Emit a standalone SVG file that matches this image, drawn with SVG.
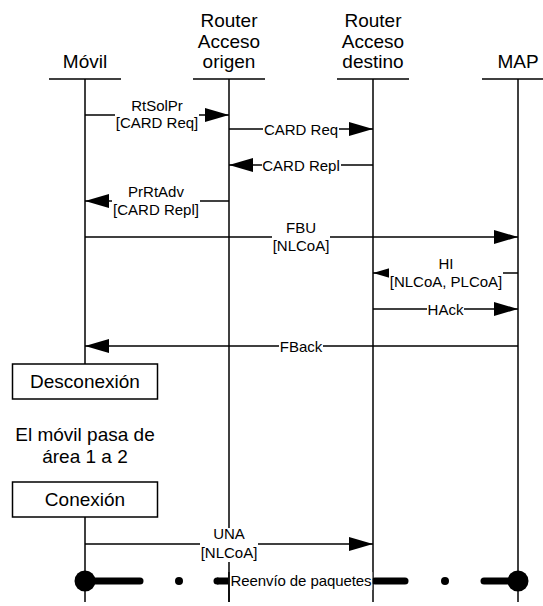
<svg xmlns="http://www.w3.org/2000/svg" width="543" height="606" viewBox="0 0 543 606">
<style>
.hdr{font-family:"Liberation Sans",Arial,sans-serif;font-size:19px;fill:#000;text-anchor:middle}
.lbl{font-family:"Liberation Sans",Arial,sans-serif;font-size:15px;fill:#000;text-anchor:middle}
.ln{stroke:#000;stroke-width:1.5;fill:none}
.msg{stroke:#000;stroke-width:1.5;fill:none;marker-end:url(#ah)}
.bg{fill:#fff;stroke:none}
.box{fill:#fff;stroke:#000;stroke-width:1.5}
.thick{stroke:#000;stroke-width:7;stroke-linecap:round;fill:none}
</style>
<defs>
<marker id="ah" markerUnits="userSpaceOnUse" markerWidth="24" markerHeight="14" refX="24" refY="7" orient="auto" viewBox="0 0 24 14">
<path d="M0,0 L24,7 L0,14 z" fill="#000"/>
</marker>
</defs>
<rect width="543" height="606" fill="#fff"/>
<g id="movil">
<text class="hdr" x="85" y="68">Móvil</text>
<line class="ln" x1="49" y1="79" x2="121" y2="79"/>
<line class="ln" x1="85" y1="79" x2="85" y2="364"/>
<line class="ln" x1="85" y1="517" x2="85" y2="602"/>
</g>
<g id="origen">
<text class="hdr" x="229" y="27">Router</text>
<text class="hdr" x="229" y="48">Acceso</text>
<text class="hdr" x="229" y="68">origen</text>
<line class="ln" x1="193" y1="79" x2="265" y2="79"/>
<line class="ln" x1="229" y1="79" x2="229" y2="602"/>
</g>
<g id="destino">
<text class="hdr" x="373" y="27">Router</text>
<text class="hdr" x="373" y="48">Acceso</text>
<text class="hdr" x="373" y="68">destino</text>
<line class="ln" x1="337" y1="79" x2="409" y2="79"/>
<line class="ln" x1="373" y1="79" x2="373" y2="602"/>
</g>
<g id="map">
<text class="hdr" x="518" y="68">MAP</text>
<line class="ln" x1="482" y1="79" x2="554" y2="79"/>
<line class="ln" x1="518" y1="79" x2="518" y2="602"/>
</g>
<g id="desconexion">
<rect class="box" x="12.5" y="364" width="145" height="35"/>
<text class="hdr" x="85" y="388">Desconexión</text>
</g>
<g id="nota">
<text class="hdr" x="85" y="441">El móvil pasa de</text>
<text class="hdr" x="85" y="463">área 1 a 2</text>
</g>
<g id="conexion">
<rect class="box" x="12.5" y="482" width="145" height="35"/>
<text class="hdr" x="85" y="506">Conexión</text>
</g>
<g id="connectors">
<g id="m-rtsolpr">
<line class="msg" x1="85" y1="115" x2="229" y2="115"/>
<rect class="bg" x="115" y="99" width="84" height="33"/>
<text class="lbl" x="157" y="110.5">RtSolPr</text>
<text class="lbl" x="157" y="128">[CARD Req]</text>
</g>
<g id="m-cardreq">
<line class="msg" x1="229" y1="129" x2="373" y2="129"/>
<rect class="bg" x="263" y="121" width="76" height="16"/>
<text class="lbl" x="301" y="134.5">CARD Req</text>
</g>
<g id="m-cardrepl">
<line class="msg" x1="373" y1="165" x2="229" y2="165"/>
<rect class="bg" x="262" y="157" width="79" height="16"/>
<text class="lbl" x="301" y="170.5">CARD Repl</text>
</g>
<g id="m-prrtadv">
<line class="msg" x1="229" y1="201" x2="85" y2="201"/>
<rect class="bg" x="112" y="185" width="88" height="34"/>
<text class="lbl" x="156" y="197">PrRtAdv</text>
<text class="lbl" x="156" y="215">[CARD Repl]</text>
</g>
<g id="m-fbu">
<line class="msg" x1="85" y1="237" x2="518" y2="237"/>
<rect class="bg" x="272" y="221" width="58" height="34"/>
<text class="lbl" x="301" y="233">FBU</text>
<text class="lbl" x="301" y="251">[NLCoA]</text>
</g>
<g id="m-hi">
<line class="msg" x1="518" y1="273" x2="373" y2="273"/>
<rect class="bg" x="389" y="256" width="114" height="35"/>
<text class="lbl" x="446" y="268.5">HI</text>
<text class="lbl" x="446" y="287">[NLCoA, PLCoA]</text>
</g>
<g id="m-hack">
<line class="msg" x1="373" y1="309" x2="518" y2="309"/>
<rect class="bg" x="427" y="301" width="37" height="16"/>
<text class="lbl" x="445.5" y="314.5">HAck</text>
</g>
<g id="m-fback">
<line class="msg" x1="518" y1="346" x2="85" y2="346"/>
<rect class="bg" x="279" y="338" width="44" height="16"/>
<text class="lbl" x="301" y="351.5">FBack</text>
</g>
<g id="m-una">
<line class="msg" x1="85" y1="544" x2="373" y2="544"/>
<rect class="bg" x="200" y="528" width="58" height="34"/>
<text class="lbl" x="229" y="539">UNA</text>
<text class="lbl" x="229" y="558">[NLCoA]</text>
</g>
<g id="m-reenvio">
<circle cx="85" cy="581" r="10.5" fill="#000"/>
<circle cx="518" cy="581" r="10.5" fill="#000"/>
<line class="thick" x1="85" y1="581" x2="140" y2="581"/>
<circle cx="179" cy="581" r="4" fill="#000"/>
<line stroke="#000" stroke-width="7" x1="217" y1="581" x2="228.2" y2="581"/>
<circle cx="217" cy="581" r="3.5" fill="#000"/>
<line class="thick" x1="375" y1="581" x2="405" y2="581"/>
<circle cx="445" cy="581" r="4" fill="#000"/>
<line class="thick" x1="484" y1="581" x2="518" y2="581"/>
<rect class="bg" x="229.8" y="572" width="142.5" height="18"/>
<line class="ln" x1="229" y1="572" x2="229" y2="602"/>
<text class="lbl" x="301" y="586" textLength="141">Reenvío de paquetes</text>
</g>
</g>
</svg>
